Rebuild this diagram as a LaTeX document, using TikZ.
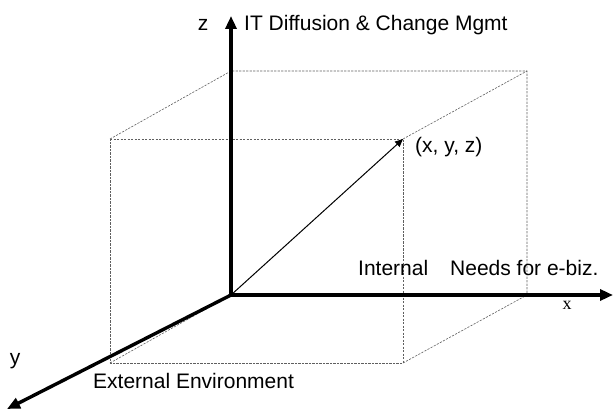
\documentclass[tikz,border=0pt]{standalone}
\usepackage{fontspec}
\setmainfont{Liberation Sans}
\newfontfamily\serifx{Liberation Serif}
\usetikzlibrary{arrows.meta,positioning}
\definecolor{boxGray}{RGB}{95,95,95}

\begin{document}
\begin{tikzpicture}[x=1pt,y=-1pt,
    axis/.style={line width=3.4pt, -{Triangle[length=13pt,width=11pt]}},
    boxline/.style={draw=boxGray, line width=0.6pt, dash pattern=on 2.2pt off 1.3pt},
    lbl/.style={font=\fontsize{21}{25}\selectfont, inner sep=0pt}]
  \useasboundingbox (0,0) rectangle (613,412);
  % axes origin and tips
  \coordinate (o) at (231,295);
  \coordinate (zend) at (231,16);
  \coordinate (xend) at (613,295);
  \coordinate (yend) at (7,409);
  % corners of the box
  \coordinate (f1) at (110,139);
  \coordinate (f2) at (403,139);
  \coordinate (f3) at (403,363);
  \coordinate (f4) at (110,363);
  \coordinate (b1) at (231,71);
  \coordinate (b2) at (527,71);
  \coordinate (b3) at (527,295);
  \draw[boxline] (f1) -- (f2) -- (f3) -- (f4) -- cycle;
  \draw[boxline] (f1) -- (b1) -- (b2) -- (b3) -- (o);
  \draw[boxline] (f2) -- (b2);
  \draw[boxline] (f3) -- (b3);
  \draw[boxline] (f4) -- (o);
  \draw[boxline] (o) -- (b1);

  \draw[axis] (o) -- (zend);
  \draw[axis] (o) -- (xend);
  \draw[axis] (o) -- (yend);
  \draw[line width=1pt, -{Triangle[length=8pt,width=7pt]}] (o) -- (f2);

  \node[lbl] (zlab) at (203,25) {z};
  \node[lbl, anchor=west] (itlab) at (244,25) {IT Diffusion \& Change Mgmt};
  \node[lbl, anchor=west] (pt) at (415,147) {(x, y, z)};
  \node[lbl, anchor=west] (intlab) at (358,268) {Internal};
  \node[lbl, anchor=west] (needlab) at (450,268) {Needs for e-biz.};
  \node[font=\serifx\fontsize{18}{21}\selectfont, inner sep=0pt] (xlab) at (567,305) {x};
  \node[lbl] (ylab) at (15,361) {y};
  \node[lbl, anchor=west] (extlab) at (93,381) {External Environment};
\end{tikzpicture}
\end{document}
